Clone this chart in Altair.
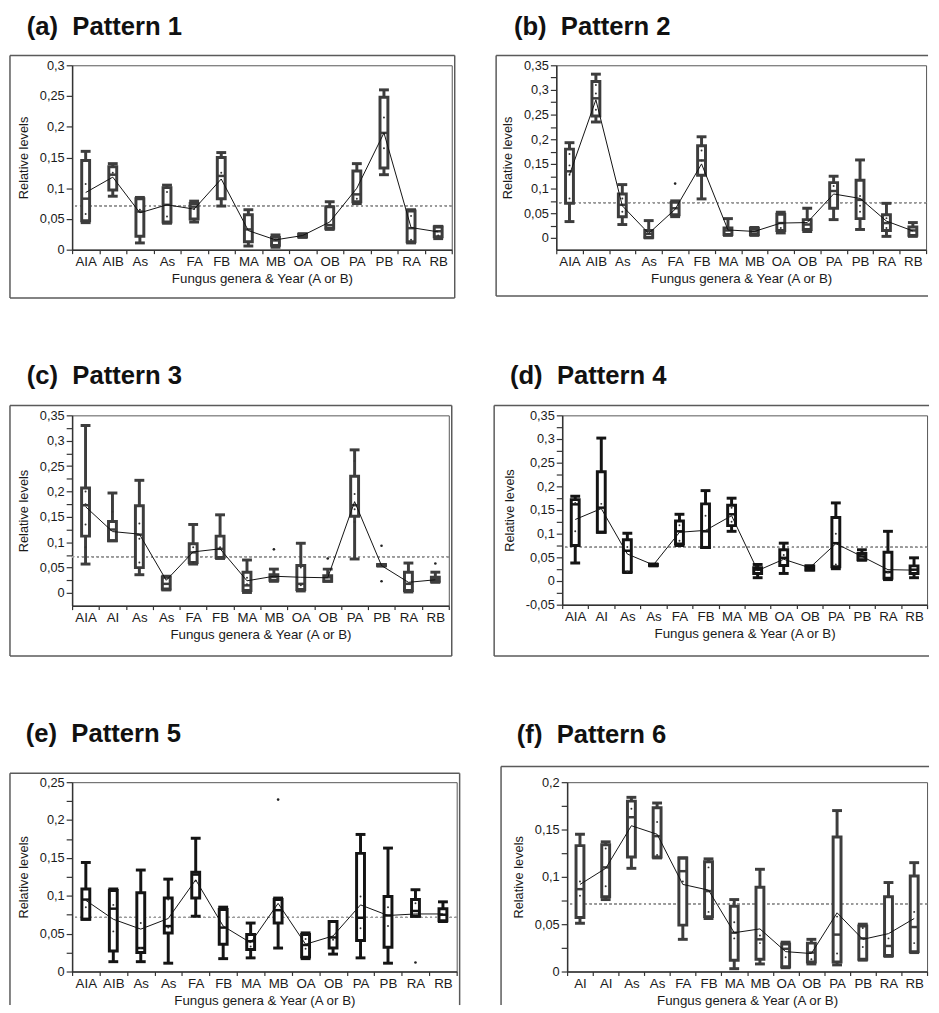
import altair as alt
import pandas as pd

FONT = "Liberation Sans"
REF_LEVEL = 0.0714
X_TITLE = "Fungus genera & Year (A or B)"
Y_TITLE = "Relative levels"

CATS_AB = ["AIA", "AIB", "As", "As", "FA", "FB", "MA", "MB", "OA", "OB", "PA", "PB", "RA", "RB"]
CATS_C = ["AIA", "AI", "As", "As", "FA", "FB", "MA", "MB", "OA", "OB", "PA", "PB", "RA", "RB"]
CATS_F = ["AI", "AI", "As", "As", "FA", "FB", "MA", "MB", "OA", "OB", "PA", "PB", "RA", "RB"]

# (a) Pattern 1
A_MAX = [0.160, 0.140, 0.085, 0.105, 0.079, 0.158, 0.065, 0.024, 0.026, 0.078, 0.140, 0.260, 0.065, 0.038]
A_Q3 = [0.145, 0.135, 0.083, 0.101, 0.075, 0.150, 0.057, 0.020, 0.025, 0.070, 0.128, 0.248, 0.063, 0.037]
A_MED = [0.083, 0.122, 0.062, 0.073, 0.070, 0.120, 0.033, 0.015, 0.023, 0.040, 0.090, 0.190, 0.035, 0.030]
A_Q1 = [0.047, 0.097, 0.022, 0.045, 0.050, 0.083, 0.013, 0.007, 0.021, 0.035, 0.078, 0.133, 0.013, 0.021]
A_MIN = [0.044, 0.087, 0.011, 0.043, 0.045, 0.071, 0.006, 0.004, 0.020, 0.033, 0.075, 0.122, 0.011, 0.018]
A_MEAN = [0.093, 0.118, 0.060, 0.073, 0.066, 0.115, 0.031, 0.016, 0.023, 0.045, 0.100, 0.190, 0.036, 0.029]
A_OUT_IDX = []
A_OUT_VAL = []
A_DOT_IDX = [0, 0, 1, 2, 3, 3, 4, 5, 7, 10, 11, 11, 12, 12, 13]
A_DOT_VAL = [0.107, 0.058, 0.125, 0.065, 0.094, 0.054, 0.066, 0.125, 0.016, 0.083, 0.215, 0.165, 0.055, 0.016, 0.023]
A_TICKS = [0, 0.05, 0.1, 0.15, 0.2, 0.25, 0.3]

# (b) Pattern 2
B_MAX = [0.193, 0.332, 0.108, 0.035, 0.075, 0.205, 0.039, 0.021, 0.052, 0.060, 0.125, 0.158, 0.070, 0.031]
B_Q3 = [0.180, 0.317, 0.089, 0.015, 0.072, 0.187, 0.020, 0.019, 0.048, 0.037, 0.112, 0.117, 0.047, 0.022]
B_MED = [0.135, 0.283, 0.067, 0.008, 0.060, 0.157, 0.015, 0.013, 0.030, 0.027, 0.095, 0.077, 0.030, 0.015]
B_Q1 = [0.070, 0.247, 0.043, 0.001, 0.047, 0.127, 0.007, 0.007, 0.015, 0.017, 0.060, 0.039, 0.015, 0.005]
B_MIN = [0.033, 0.235, 0.027, 0.000, 0.043, 0.079, 0.005, 0.005, 0.010, 0.013, 0.037, 0.017, 0.003, 0.003]
B_MEAN = [0.128, 0.280, 0.065, 0.009, 0.058, 0.150, 0.016, 0.013, 0.030, 0.031, 0.089, 0.080, 0.034, 0.014]
B_OUT_IDX = [4]
B_OUT_VAL = [0.110]
B_DOT_IDX = [0, 0, 0, 0, 1, 1, 1, 2, 2, 5, 5, 8, 10, 11, 11, 11, 12, 12]
B_DOT_VAL = [0.170, 0.147, 0.128, 0.080, 0.310, 0.293, 0.260, 0.080, 0.053, 0.177, 0.157, 0.020,
             0.105, 0.085, 0.065, 0.053, 0.040, 0.020]
B_TICKS = [0, 0.025, 0.05, 0.075, 0.1, 0.125, 0.15, 0.175, 0.2, 0.225, 0.25, 0.275, 0.3, 0.325, 0.35]

# (c) Pattern 3
C_MAX = [0.330, 0.197, 0.222, 0.033, 0.135, 0.154, 0.065, 0.047, 0.098, 0.047, 0.282, 0.056, 0.059, 0.041]
C_Q3 = [0.207, 0.141, 0.172, 0.031, 0.097, 0.112, 0.041, 0.036, 0.054, 0.034, 0.230, 0.056, 0.041, 0.031]
C_MED = [0.173, 0.125, 0.115, 0.018, 0.080, 0.087, 0.015, 0.032, 0.018, 0.031, 0.173, 0.055, 0.018, 0.027]
C_Q1 = [0.112, 0.103, 0.050, 0.008, 0.060, 0.070, 0.005, 0.025, 0.007, 0.023, 0.151, 0.054, 0.005, 0.023]
C_MIN = [0.057, 0.103, 0.036, 0.006, 0.057, 0.068, 0.001, 0.023, 0.004, 0.023, 0.067, 0.053, 0.002, 0.021]
C_MEAN = [0.170, 0.121, 0.116, 0.025, 0.081, 0.087, 0.024, 0.033, 0.031, 0.030, 0.180, 0.054, 0.021, 0.026]
C_OUT_IDX = [7, 9, 11, 11, 13]
C_OUT_VAL = [0.086, 0.068, 0.093, 0.023, 0.058]
C_DOT_IDX = [0, 0, 0, 0, 1, 2, 2, 2, 4, 4, 5, 6, 6, 8, 8, 10, 10, 10, 10]
C_DOT_VAL = [0.200, 0.175, 0.135, 0.090, 0.160, 0.137, 0.107, 0.060, 0.090, 0.060, 0.090, 0.030,
             0.017, 0.050, 0.015, 0.260, 0.195, 0.165, 0.140]
C_TICKS = B_TICKS

# (d) Pattern 4
D_MAX = [0.179, 0.302, 0.101, 0.036, 0.141, 0.191, 0.175, 0.035, 0.080, 0.032, 0.165, 0.066, 0.105, 0.049]
D_Q3 = [0.172, 0.231, 0.087, 0.035, 0.127, 0.163, 0.160, 0.028, 0.066, 0.032, 0.134, 0.058, 0.061, 0.032]
D_MED = [0.162, 0.155, 0.064, 0.034, 0.105, 0.105, 0.141, 0.024, 0.049, 0.028, 0.080, 0.052, 0.019, 0.024]
D_Q1 = [0.075, 0.103, 0.019, 0.033, 0.078, 0.071, 0.117, 0.016, 0.033, 0.023, 0.030, 0.045, 0.006, 0.016]
D_MIN = [0.038, 0.103, 0.018, 0.032, 0.075, 0.071, 0.105, 0.007, 0.016, 0.023, 0.026, 0.044, 0.003, 0.007]
D_MEAN = [0.130, 0.153, 0.057, 0.034, 0.103, 0.107, 0.138, 0.022, 0.046, 0.028, 0.079, 0.052, 0.024, 0.023]
D_OUT_IDX = []
D_OUT_VAL = []
D_DOT_IDX = [0, 0, 1, 2, 2, 4, 4, 5, 6, 6, 8, 10, 10, 12]
D_DOT_VAL = [0.165, 0.105, 0.163, 0.072, 0.020, 0.118, 0.085, 0.138, 0.155, 0.125, 0.055, 0.100,
             0.035, 0.018]
D_TICKS = [-0.05, -0.025] + B_TICKS

# (e) Pattern 5
E_MAX = [0.144, 0.109, 0.134, 0.122, 0.176, 0.085, 0.064, 0.097, 0.051, 0.066, 0.181, 0.163, 0.108, 0.092]
E_Q3 = [0.109, 0.107, 0.104, 0.097, 0.131, 0.082, 0.049, 0.095, 0.049, 0.066, 0.156, 0.099, 0.095, 0.083]
E_MED = [0.095, 0.083, 0.031, 0.060, 0.128, 0.058, 0.040, 0.081, 0.035, 0.045, 0.071, 0.074, 0.080, 0.075]
E_Q1 = [0.069, 0.027, 0.025, 0.051, 0.097, 0.036, 0.029, 0.064, 0.019, 0.031, 0.041, 0.032, 0.073, 0.067]
E_MIN = [0.069, 0.013, 0.013, 0.011, 0.073, 0.017, 0.018, 0.031, 0.017, 0.023, 0.018, 0.011, 0.073, 0.066]
E_MEAN = [0.094, 0.069, 0.056, 0.070, 0.121, 0.060, 0.038, 0.090, 0.036, 0.047, 0.088, 0.074, 0.076, 0.076]
E_OUT_IDX = [7, 12]
E_OUT_VAL = [0.227, 0.012]
E_DOT_IDX = [0, 1, 1, 2, 2, 3, 3, 4, 6, 8, 8, 9, 10, 10, 11, 11, 12]
E_DOT_VAL = [0.085, 0.088, 0.053, 0.064, 0.031, 0.095, 0.058, 0.120, 0.033, 0.030, 0.043, 0.042,
             0.099, 0.057, 0.085, 0.060, 0.090]
E_TICKS = [0, 0.025, 0.05, 0.075, 0.1, 0.125, 0.15, 0.175, 0.2, 0.225, 0.25]

# (f) Pattern 6
F_MAX = [0.145, 0.137, 0.184, 0.178, 0.120, 0.119, 0.076, 0.108, 0.031, 0.034, 0.170, 0.050, 0.094, 0.115]
F_Q3 = [0.133, 0.134, 0.180, 0.173, 0.120, 0.116, 0.069, 0.089, 0.029, 0.030, 0.142, 0.048, 0.079, 0.101]
F_MED = [0.087, 0.110, 0.163, 0.143, 0.106, 0.085, 0.041, 0.034, 0.024, 0.020, 0.039, 0.035, 0.027, 0.047]
F_Q1 = [0.057, 0.079, 0.121, 0.121, 0.049, 0.058, 0.012, 0.013, 0.005, 0.010, 0.010, 0.013, 0.017, 0.021]
F_MIN = [0.051, 0.076, 0.109, 0.120, 0.034, 0.056, 0.003, 0.008, 0.004, 0.008, 0.007, 0.012, 0.016, 0.020]
F_MEAN = [0.092, 0.109, 0.154, 0.145, 0.092, 0.086, 0.041, 0.045, 0.021, 0.019, 0.062, 0.034, 0.040, 0.056]
F_OUT_IDX = []
F_OUT_VAL = []
F_DOT_IDX = [0, 0, 1, 1, 2, 3, 3, 4, 5, 5, 6, 6, 7, 7, 8, 9, 10, 10, 11, 11, 12, 13, 13]
F_DOT_VAL = [0.095, 0.080, 0.130, 0.090, 0.172, 0.158, 0.123, 0.095, 0.110, 0.063, 0.052, 0.035,
             0.038, 0.030, 0.015, 0.013, 0.058, 0.019, 0.046, 0.026, 0.035, 0.063, 0.030]
F_TICKS = [0, 0.025, 0.05, 0.075, 0.1, 0.125, 0.15, 0.175, 0.2]

Y_LABEL_EXPR = ("abs(round(datum.value*1000)) % 50 == 0 ? "
                "replace(toString(round(datum.value*1000)/1000), '.', ',') : ''")

ONE = pd.DataFrame({"k": [0]})


def rule(x1, x2, y1, y2, color="#5a5a5a", width=1.5):
    return alt.Chart(ONE).mark_rule(color=color, strokeWidth=width).encode(
        x=alt.value(x1), x2=alt.value(x2), y=alt.value(y1), y2=alt.value(y2))


def panel(title, cats, mn, q1, md, q3, mx, mean, out_idx, out_val, dot_idx, dot_val,
          ydom, yticks, W, H, color, frame, tpos, ytp=9):
    keys = ["%02d_%s" % (i, c) for i, c in enumerate(cats)]
    df = pd.DataFrame({"key": keys, "mn": mn, "q1": q1, "md": md, "q3": q3,
                       "mx": mx, "mean": mean})
    dfo = pd.DataFrame({"key": [keys[i] for i in out_idx], "v": out_val})
    dfd = pd.DataFrame({"key": [keys[i] for i in dot_idx], "v": dot_val})
    xs = alt.Scale(type="band", domain=keys, paddingInner=0, paddingOuter=0)
    ys = alt.Scale(domain=ydom, nice=False, zero=False)
    xax = alt.Axis(title=X_TITLE, labelExpr="substring(datum.label, 3)", labelAngle=0,
                   tickBand="extent", tickSize=4, labelPadding=1, titlePadding=4,
                   labelFontSize=13.5, titleFontSize=13.5, labelOverlap=False,
                   domainWidth=1.5, tickWidth=1.2)
    yax = alt.Axis(title=Y_TITLE, values=yticks, labelExpr=Y_LABEL_EXPR, tickSize=6,
                   labelPadding=2, titlePadding=ytp, grid=False, labelFontSize=13,
                   titleFontSize=13, domainWidth=1.5, tickWidth=1.2, labelOverlap=False)
    X = alt.X("key:N", scale=xs, axis=xax)

    def Y(field):
        return alt.Y(field, type="quantitative", scale=ys, axis=yax)

    base = alt.Chart(df)
    layers = []
    layers.append(base.mark_rule(color="#9a9a9a", strokeDash=[2, 3], strokeWidth=1)
                  .encode(y=alt.Y(datum=REF_LEVEL, scale=ys, axis=yax)))
    layers.append(base.mark_rule(color=color, strokeWidth=3).encode(
        x=X, y=Y("mn"), y2="mx:Q"))
    layers.append(base.mark_bar(size=8, fill="white", stroke=color, strokeWidth=3).encode(
        x=X, y=Y("q1"), y2="q3:Q"))
    layers.append(base.mark_tick(color=color, thickness=2.5, size=9, opacity=1).encode(
        x=X, y=Y("md")))
    layers.append(base.mark_tick(color=color, thickness=3, size=10, opacity=1).encode(
        x=X, y=Y("mn")))
    layers.append(base.mark_tick(color=color, thickness=3, size=10, opacity=1).encode(
        x=X, y=Y("mx")))
    if len(dfd):
        layers.append(alt.Chart(dfd).mark_circle(size=4, color="#333333", opacity=1).encode(
            x=X, y=Y("v")))
    if len(dfo):
        layers.append(alt.Chart(dfo).mark_circle(size=7, color="#222222", opacity=1).encode(
            x=X, y=Y("v")))
    layers.append(base.mark_line(color="#111111", strokeWidth=1).encode(
        x=X, y=Y("mean")))

    fl, fr, ft, fb, right_edge, bottom_edge = frame
    layers.append(rule(fl, fr, ft, ft))
    layers.append(rule(fl, fl, ft, fb))
    if bottom_edge:
        layers.append(rule(fl, fr, fb, fb))
    if right_edge:
        layers.append(rule(fr, fr, ft, fb))

    layers.append(alt.Chart(ONE).mark_text(align="left", baseline="alphabetic", fontSize=26,
                                           fontWeight="bold", font=FONT, color="#111111")
                  .encode(x=alt.value(tpos[0]), y=alt.value(tpos[1]), text=alt.value(title)))
    return alt.layer(*layers).properties(width=W, height=H)


DARK = "#3d3d3d"
BLACK = "#141414"

pa = panel("(a)\u00a0 Pattern 1", CATS_AB, A_MIN, A_Q1, A_MED, A_Q3, A_MAX, A_MEAN,
           A_OUT_IDX, A_OUT_VAL, A_DOT_IDX, A_DOT_VAL, [0, 0.3], A_TICKS, 385, 187, DARK,
           (-63, 388, -10, 236, True, True), (-46, -31))
pb = panel("(b)\u00a0 Pattern 2", CATS_AB, B_MIN, B_Q1, B_MED, B_Q3, B_MAX, B_MEAN,
           B_OUT_IDX, B_OUT_VAL, B_DOT_IDX, B_DOT_VAL, [-0.024, 0.35], B_TICKS, 375, 187, DARK,
           (-61, 377, -10, 234, False, True), (-43, -31))
pc = panel("(c)\u00a0 Pattern 3", CATS_C, C_MIN, C_Q1, C_MED, C_Q3, C_MAX, C_MEAN,
           C_OUT_IDX, C_OUT_VAL, C_DOT_IDX, C_DOT_VAL, [-0.025, 0.35], C_TICKS, 382, 193, DARK,
           (-63, 385, -10, 244, True, True), (-46, -32))
pd_ = panel("(d)\u00a0 Pattern 4", CATS_C, D_MIN, D_Q1, D_MED, D_Q3, D_MAX, D_MEAN,
            D_OUT_IDX, D_OUT_VAL, D_DOT_IDX, D_DOT_VAL, [-0.05, 0.35], D_TICKS, 370, 192, BLACK,
            (-69, 372, -10, 244, False, True), (-53, -32))
pe = panel("(e)\u00a0 Pattern 5", CATS_AB, E_MIN, E_Q1, E_MED, E_Q3, E_MAX, E_MEAN,
           E_OUT_IDX, E_OUT_VAL, E_DOT_IDX, E_DOT_VAL, [0, 0.25], E_TICKS, 390, 192, BLACK,
           (-63, 393, -9, 226, True, False), (-47, -41))
pf = panel("(f)\u00a0 Pattern 6", CATS_F, F_MIN, F_Q1, F_MED, F_Q3, F_MAX, F_MEAN,
           F_OUT_IDX, F_OUT_VAL, F_DOT_IDX, F_DOT_VAL, [0, 0.2], F_TICKS, 365, 192, DARK,
           (-67, 367, -16, 226, False, False), (-51, -40))

row1 = alt.hconcat(pa, pb, spacing=38)
row2 = alt.hconcat(pc, pd_, spacing=39)
row3 = alt.hconcat(pe, pf, spacing=38)

chart = (alt.vconcat(row1, row2, row3, spacing=63)
         .properties(padding={"left": 0, "top": -2, "right": 0, "bottom": 0}, background="white")
         .configure_view(stroke="#555555", strokeWidth=1)
         .configure_axis(labelFont=FONT, titleFont=FONT, domainColor="#333333",
                         tickColor="#333333", labelColor="#1a1a1a", titleColor="#1a1a1a",
                         titleFontWeight="normal"))

chart.save("out.html", embed_options={"renderer": "svg", "actions": False})
